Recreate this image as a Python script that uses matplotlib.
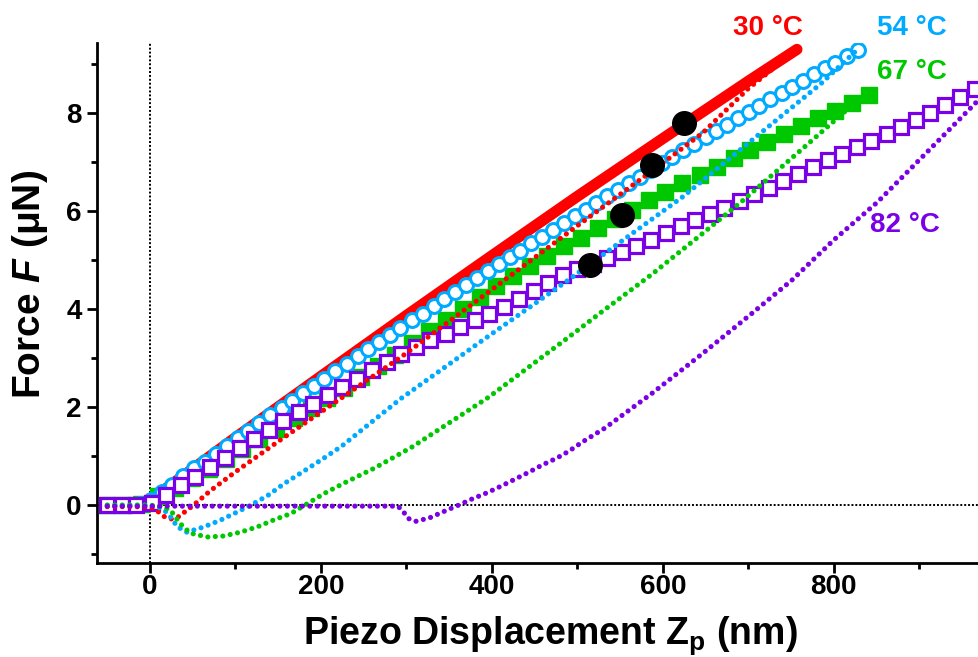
import numpy as np
import matplotlib
matplotlib.use('Agg')
import matplotlib.pyplot as plt

plt.rcParams['font.family'] = ['Liberation Sans', 'DejaVu Sans']
plt.rcParams['font.weight'] = 'bold'
plt.rcParams['mathtext.fontset'] = 'custom'
plt.rcParams['mathtext.rm'] = 'Liberation Sans:bold'
plt.rcParams['mathtext.bf'] = 'Liberation Sans:bold'
plt.rcParams['mathtext.it'] = 'Liberation Sans:italic:bold'
plt.rcParams['mathtext.bfit'] = 'Liberation Sans:italic:bold'

# ---------------- data ----------------
# 30 °C approach (dense dots -> thick band)
red_app_x = [-50, -20, 0, 50, 100, 200, 300, 400, 500, 600, 700, 757]
red_app_y = [0.0, 0.0, 0.1, 0.74, 1.38, 2.63, 3.87, 5.09, 6.30, 7.48, 8.65, 9.30]
# 30 °C retract (dotted)
red_ret_x = [-50, -20, 0, 6, 12, 18, 25, 33, 42, 51, 71, 100, 150, 200, 250, 300, 400, 500, 600, 647, 700, 757]
red_ret_y = [-0.03, -0.03, -0.04, -0.08, -0.17, -0.25, -0.28, -0.24, -0.12, 0.0, 0.3, 0.68, 1.3, 1.9, 2.5, 3.1,
             4.4, 5.7, 6.98, 7.6, 8.5, 9.3]

# 54 °C approach (open circles)
cyan_x = [-50, -37, -25, -12, 1, 14, 26, 39, 52, 64, 77, 90, 103, 115, 128, 141, 154, 166, 179, 192, 204, 217,
          230, 243, 255, 268, 281, 293, 306, 319, 332, 344, 357, 370, 383, 395, 408, 421, 433, 446, 459, 472,
          484, 497, 510, 522, 535, 548, 561, 573, 586, 599, 611, 624, 637, 650, 662, 675, 688, 701, 713, 726,
          739, 751, 764, 777, 790, 802, 815, 828]
cyan_y = [0, 0, 0, 0.02, 0.11, 0.27, 0.42, 0.59, 0.75, 0.89, 1.05, 1.21, 1.37, 1.52, 1.67, 1.83, 1.98, 2.13,
          2.28, 2.44, 2.58, 2.73, 2.89, 3.04, 3.18, 3.33, 3.48, 3.62, 3.77, 3.91, 4.06, 4.20, 4.35, 4.49, 4.64,
          4.77, 4.92, 5.06, 5.19, 5.34, 5.48, 5.62, 5.75, 5.89, 6.03, 6.16, 6.30, 6.44, 6.58, 6.70, 6.84, 6.98,
          7.10, 7.24, 7.37, 7.51, 7.63, 7.76, 7.90, 8.03, 8.15, 8.28, 8.41, 8.53, 8.66, 8.79, 8.91, 9.03, 9.16,
          9.28]
# 54 °C retract (dotted)
cyan_ret_x = [-50, 0, 15, 24, 32, 43, 62, 82, 102, 118, 138, 157, 176, 200, 224, 251, 294, 388, 490, 545,
              624, 694, 785, 828]
cyan_ret_y = [0.0, 0.0, -0.07, -0.24, -0.44, -0.55, -0.45, -0.31, -0.14, 0.0, 0.2, 0.44, 0.65, 0.92, 1.2,
              1.58, 2.18, 3.35, 4.6, 5.3, 6.3, 7.3, 8.6, 9.3]

# 67 °C approach (filled squares)
green_x = [-50, -30, -10, 9, 29, 49, 69, 89, 108, 128, 148, 168, 188, 207, 227, 247, 267, 287, 306, 326,
           346, 366, 386, 405, 425, 445, 465, 485, 504, 524, 544, 564, 584, 603, 623, 643, 663, 683, 702, 722,
           742, 762, 782, 801, 821, 841]
green_y = [0, 0, 0.02, 0.18, 0.36, 0.55, 0.74, 0.95, 1.14, 1.35, 1.56, 1.77, 1.98, 2.19, 2.40, 2.62, 2.84,
           3.07, 3.31, 3.55, 3.78, 4.01, 4.25, 4.47, 4.68, 4.88, 5.08, 5.28, 5.46, 5.65, 5.84, 6.03, 6.22, 6.40,
           6.57, 6.74, 6.91, 7.08, 7.24, 7.41, 7.57, 7.73, 7.89, 8.05, 8.21, 8.37]
# 67 °C retract (dotted)
green_ret_x = [-50, 0, 12, 24, 35, 47, 67, 86, 106, 126, 145, 165, 185, 204, 227, 262, 306, 396, 490, 529,
               588, 612, 647, 694, 760, 815, 841]
green_ret_y = [0.0, 0.0, -0.02, -0.1, -0.37, -0.57, -0.65, -0.63, -0.55, -0.44, -0.3, -0.17, 0.04, 0.24,
               0.45, 0.75, 1.18, 2.2, 3.43, 3.95, 4.72, 5.06, 5.55, 6.22, 7.22, 8.06, 8.4]

# 82 °C approach (open squares)
purple_x = [-50, -33, -16, 2, 19, 36, 53, 70, 88, 105, 122, 139, 156, 174, 191, 208, 225, 242, 260, 277,
            294, 311, 328, 346, 363, 380, 397, 414, 432, 449, 466, 483, 500, 518, 535, 552, 569, 586, 604, 621,
            638, 655, 672, 690, 707, 724, 741, 758, 776, 793, 810, 827, 844, 862, 879, 896, 913, 930, 948, 965]
purple_y = [0, 0, 0, 0.05, 0.21, 0.41, 0.58, 0.77, 0.96, 1.16, 1.35, 1.53, 1.71, 1.90, 2.07, 2.24, 2.41,
            2.58, 2.76, 2.93, 3.08, 3.22, 3.36, 3.50, 3.64, 3.78, 3.91, 4.05, 4.21, 4.37, 4.53, 4.69, 4.81,
            4.92, 5.04, 5.17, 5.29, 5.42, 5.56, 5.69, 5.82, 5.94, 6.07, 6.20, 6.34, 6.48, 6.62, 6.76, 6.90,
            7.04, 7.17, 7.30, 7.43, 7.57, 7.71, 7.86, 8.01, 8.17, 8.33, 8.49]
# 82 °C retract (dotted)
purple_ret_x = [-50, 290, 296, 302, 311, 327, 345, 361, 376, 394, 411, 427, 443, 459, 476, 490, 506, 532,
                588, 647, 702, 751, 800, 851, 909, 973]
purple_ret_y = [-0.02, -0.02, -0.12, -0.27, -0.33, -0.26, -0.12, 0.0, 0.12, 0.25, 0.39, 0.53, 0.67, 0.82,
                0.96, 1.1, 1.29, 1.57, 2.29, 3.1, 3.88, 4.59, 5.41, 6.18, 7.2, 8.33]

# black transition points
dot_x = [625, 587, 552, 515]
dot_y = [7.8, 6.94, 5.92, 4.9]

labels = ['30 °C', '54 °C', '67 °C', '82 °C']
label_x = [723, 891, 891, 883]
label_y = [9.73, 9.73, 8.84, 5.71]

c_red = '#ff0000'
c_cyan = '#00aaff'
c_green = '#00c800'
c_purple = '#7a00e6'
colors = [c_red, c_cyan, c_green, c_purple]

# ---------------- figure ----------------
fig = plt.figure(figsize=(9.79, 6.57), dpi=100)
ax = fig.add_axes([97 / 979, 1 - 563 / 657, 1 - 97 / 979, (563 - 43) / 657])

ax.axhline(0, color='black', lw=1.4, ls=(0, (1, 1)), zorder=1)
ax.axvline(0, color='black', lw=1.4, ls=(0, (1, 1)), zorder=1)

ax.plot(red_app_x, red_app_y, color=c_red, lw=8, solid_capstyle='round', zorder=3)
ax.plot(green_x, green_y, ls='none', marker='s', ms=12, mfc=c_green, mec=c_green, zorder=4)
ax.plot(cyan_x, cyan_y, ls='none', marker='o', ms=10, mfc='white', mec=c_cyan, mew=2.2, zorder=5)
ax.plot(purple_x, purple_y, ls='none', marker='s', ms=10, mfc='white', mec=c_purple, mew=2.3, zorder=6)

dot_style = dict(lw=3.7, ls=(0, (0.01, 1.45)), dash_capstyle='round', zorder=7)
ax.plot(red_ret_x, red_ret_y, color=c_red, **dot_style)
ax.plot(cyan_ret_x, cyan_ret_y, color=c_cyan, **dot_style)
ax.plot(green_ret_x, green_ret_y, color=c_green, **dot_style)
ax.plot(purple_ret_x, purple_ret_y, color=c_purple, **dot_style)

ax.plot(dot_x, dot_y, ls='none', marker='o', ms=17, color='black', zorder=9)

for t, x, y, c in zip(labels, label_x, label_y, colors):
    ax.text(x, y, t, color=c, fontsize=20, fontweight='bold', ha='center', va='center', clip_on=False)

ax.set_xlim(-62, 970)
ax.set_ylim(-1.18, 9.43)
ax.set_xticks([0, 200, 400, 600, 800])
ax.set_xticks([100, 300, 500, 700, 900], minor=True)
ax.set_yticks([0, 2, 4, 6, 8])
ax.set_yticks([-1, 1, 3, 5, 7, 9], minor=True)

for s in ['top', 'right']:
    ax.spines[s].set_visible(False)
for s in ['left', 'bottom']:
    ax.spines[s].set_linewidth(2)

ax.tick_params(which='major', direction='out', length=7, width=2, labelsize=20)
ax.tick_params(which='minor', direction='out', length=4, width=2)
ax.tick_params(axis='x', which='major', pad=1)
ax.tick_params(axis='y', which='major', pad=4)

ax.set_xlabel(r'Piezo Displacement $\mathbf{Z}_{\mathbf{p}}$ (nm)', fontsize=27, fontweight='bold')
ax.set_ylabel(r'Force $\mathbfit{F}$ (μN)', fontsize=28, fontweight='bold')
ax.xaxis.label.set_va('center')
ax.xaxis.set_label_coords(0.5136, -0.139)
ax.yaxis.label.set_va('center')
ax.yaxis.label.set_rotation_mode('default')
ax.yaxis.set_label_coords(-0.076, 0.535)

fig.savefig('out.png', dpi=100)
